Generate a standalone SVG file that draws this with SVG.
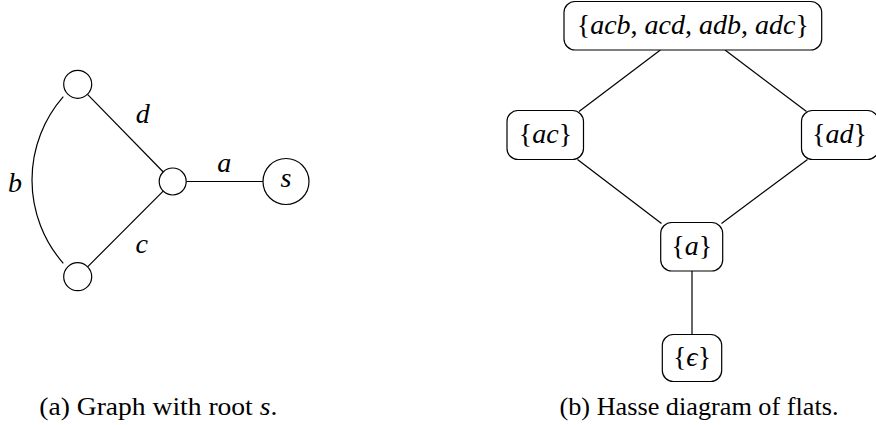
<svg xmlns="http://www.w3.org/2000/svg" width="876" height="425" viewBox="0 0 876 425">
<style>
.n{fill:#fff;stroke:#000;stroke-width:1.2}
.e{fill:none;stroke:#000;stroke-width:1.2}
.m{font-family:"Liberation Serif","DejaVu Serif",serif;font-style:italic;font-size:28px;fill:#000}
.u{font-style:normal}
.cap{font-family:"Liberation Serif","DejaVu Serif",serif;font-size:25px;fill:#000}
</style>
<rect width="876" height="425" fill="#fff"/>
<g id="connectors">
<line class="e" x1="87.5" y1="94.3" x2="163.3" y2="172"/>
<line class="e" x1="87.6" y1="266.8" x2="163.2" y2="191.2"/>
<line class="e" x1="186.2" y1="181.5" x2="263" y2="181.5"/>
<path class="e" d="M63.3 96.7 A126.5 126.5 0 0 0 63.3 263.3"/>
<line class="e" x1="660.4" y1="50" x2="579" y2="111.5"/>
<line class="e" x1="725" y1="50" x2="806.5" y2="111.5"/>
<line class="e" x1="577.5" y1="159.5" x2="661.5" y2="223.5"/>
<line class="e" x1="807.5" y1="159.5" x2="721.5" y2="223.5"/>
<line class="e" x1="692" y1="271" x2="692" y2="334.5"/>
</g>
<g id="edge-labels">
<text class="m" x="142.7" y="123" text-anchor="middle">d</text>
<text class="m" x="224.3" y="171.5" text-anchor="middle">a</text>
<text class="m" x="141.7" y="253" text-anchor="middle">c</text>
<text class="m" x="15" y="191.5" text-anchor="middle">b</text>
</g>
<g id="v-top"><circle class="n" cx="77.7" cy="84.3" r="14"/></g>
<g id="v-bottom"><circle class="n" cx="77.7" cy="276.7" r="14"/></g>
<g id="v-mid"><circle class="n" cx="172.7" cy="181.5" r="13.5"/></g>
<g id="v-s"><circle class="n" cx="286" cy="181.5" r="23"/><text class="m" x="286" y="187" text-anchor="middle">s</text></g>
<g id="f-top"><rect class="n" x="564" y="1.5" width="257.7" height="48.5" rx="11"/><text class="m" x="692.8" y="33.5" text-anchor="middle"><tspan class="u">{</tspan>acb<tspan class="u">, </tspan>acd<tspan class="u">, </tspan>adb<tspan class="u">, </tspan>adc<tspan class="u">}</tspan></text></g>
<g id="f-ac"><rect class="n" x="507" y="110.5" width="76.5" height="49" rx="11"/><text class="m" x="545.5" y="143" text-anchor="middle"><tspan class="u">{</tspan>ac<tspan class="u">}</tspan></text></g>
<g id="f-ad"><rect class="n" x="801.5" y="110.5" width="77" height="49" rx="11"/><text class="m" x="839.5" y="143" text-anchor="middle"><tspan class="u">{</tspan>ad<tspan class="u">}</tspan></text></g>
<g id="f-a"><rect class="n" x="660.7" y="222.5" width="62" height="48.5" rx="11"/><text class="m" x="691.7" y="255" text-anchor="middle"><tspan class="u">{</tspan>a<tspan class="u">}</tspan></text></g>
<g id="f-eps"><rect class="n" x="662.3" y="334.5" width="59.4" height="47" rx="11"/><text class="m" x="692" y="366" text-anchor="middle"><tspan class="u">{</tspan>ϵ<tspan class="u">}</tspan></text></g>
<g id="captions">
<text class="cap" x="39.3" y="415" textLength="238" lengthAdjust="spacingAndGlyphs">(a) Graph with root <tspan font-style="italic">s</tspan>.</text>
<text class="cap" x="559.5" y="415" textLength="279" lengthAdjust="spacingAndGlyphs">(b) Hasse diagram of flats.</text>
</g>
</svg>
